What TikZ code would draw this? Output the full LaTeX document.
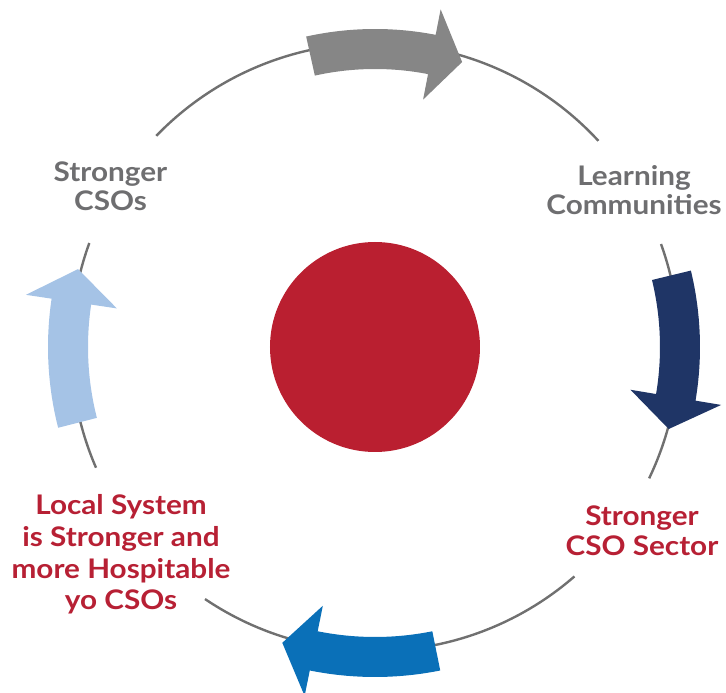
\documentclass[tikz,border=0pt]{standalone}
\usepackage{fontspec}
\setmainfont{Lato}[FakeStretch=1.1]
\definecolor{ringgray}{RGB}{112,112,112}
\definecolor{arrgray}{RGB}{134,134,134}
\definecolor{arrnavy}{RGB}{31,53,102}
\definecolor{arrblue}{RGB}{10,112,184}
\definecolor{arrlight}{RGB}{165,195,230}
\definecolor{hubred}{RGB}{186,31,48}
\definecolor{txtgray}{RGB}{110,110,112}
\definecolor{txtred}{RGB}{183,32,52}
\newcommand\ringarrow[5]{%
  \pgfmathsetmacro\ro{#5+20}\pgfmathsetmacro\ri{#5-20}%
  \pgfmathsetmacro\ho{#5+46}\pgfmathsetmacro\hi{#5-46}%
  \fill[#1] (#2:\ro pt) arc[start angle=#2, end angle=#3, radius=\ro pt]
    -- (#3:\ho pt) -- (#4:#5pt) -- (#3:\hi pt) -- (#3:\ri pt)
    arc[start angle=#3, end angle=#2, radius=\ri pt] -- cycle;}
\newcommand\ringarc[2]{\draw[ring] (#1:304pt) arc[start angle=#1, end angle=#2, radius=304pt];}
\tikzset{
  ring/.style={draw=ringgray, line width=2.4pt},
  lbl/.style={font=\fontsize{27}{29}\selectfont\bfseries, align=center, inner sep=0pt, anchor=base},
  graylbl/.style={lbl, text=txtgray},
  redlbl/.style={lbl, text=txtred},
}
\begin{document}
\begin{tikzpicture}[x=1pt,y=1pt]
\useasboundingbox (-375,-346) rectangle (351,347);
\ringarc{42.7}{136}
\ringarc{-25.6}{19.8}
\ringarc{-124}{-49}
\ringarc{160}{203.4}
\node[circle, fill=hubred, minimum size=210pt, inner sep=0pt] (hub) at (0,0) {};
\ringarrow{arrgray}{102.5}{79}{73}{298}
\ringarrow{arrnavy}{13.6}{-9.5}{-15.6}{305}
\ringarrow{arrblue}{-78.6}{-101.4}{-107.4}{310}
\ringarrow{arrlight}{194.3}{171.5}{165.3}{307}
\node[graylbl] (cso) at (-264.5,136) {Stronger\\CSOs};
\node[graylbl] (learn) at (259,132) {Learning\\Communities};
\node[redlbl, font=\fontsize{27}{30}\selectfont\bfseries] (sector) at (267,-208) {Stronger\\CSO Sector};
\node[redlbl, font=\fontsize{27}{32}\selectfont\bfseries] (local) at (-254,-263) {Local System\\is Stronger and\\more Hospitable\\yo CSOs};
\end{tikzpicture}
\end{document}
